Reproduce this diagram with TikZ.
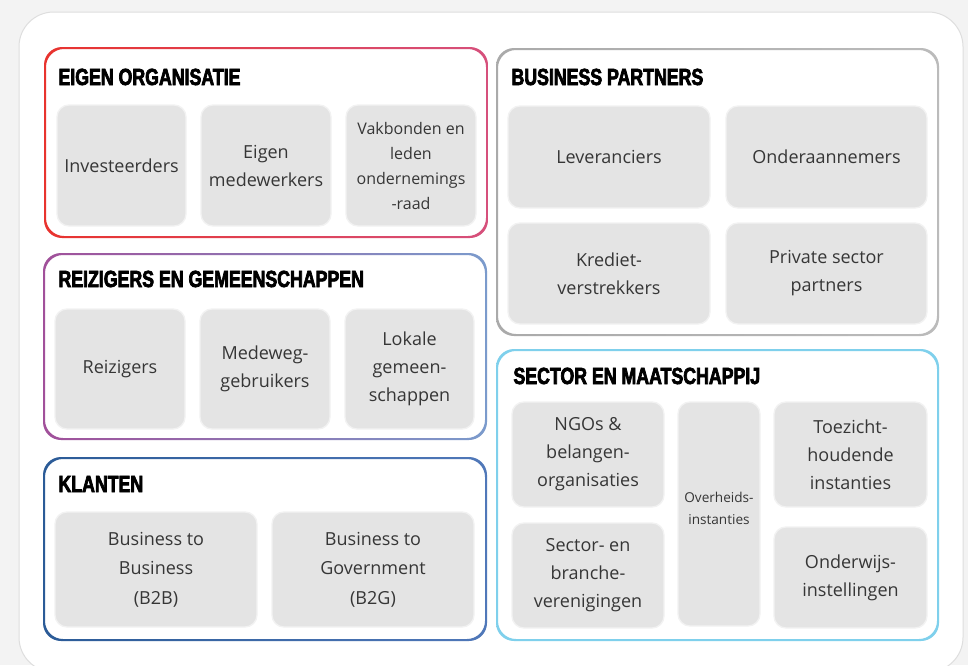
\documentclass[tikz,border=0pt]{standalone}
\usepackage{fontspec}
\setmainfont{Open Sans}
\newfontfamily\headfont{Liberation Sans Bold}[FakeStretch=0.76,FakeBold=3]

\definecolor{bgGray}{RGB}{243,243,243}
\definecolor{cardLine}{RGB}{222,222,222}
\definecolor{tileGray}{RGB}{228,228,228}
\definecolor{textGray}{RGB}{54,54,54}
\definecolor{eoRed}{RGB}{232,51,46}
\definecolor{eoPink}{RGB}{214,80,124}
\definecolor{rgPurple}{RGB}{161,80,154}
\definecolor{rgBlue}{RGB}{123,155,204}
\definecolor{klBlue}{RGB}{43,91,151}
\definecolor{klLight}{RGB}{80,120,185}
\definecolor{bpGray}{RGB}{170,170,170}
\definecolor{smBlue}{RGB}{127,208,236}

\tikzset{every picture/.style={line width=0.75pt}}
\tikzset{
  tile/.style 2 args={fill=tileGray, draw=white!95!black, line width=1pt, rounded corners=9pt,
    minimum width=#1*0.75pt, minimum height=#2*0.75pt, inner sep=0pt, align=center,
    text=textGray, font=\fontsize{13.5}{21}\selectfont},
  grouptitle/.style={anchor=base west, inner sep=0pt, font=\headfont\fontsize{17.5}{20}\selectfont},
  ring/.style={even odd rule, rounded corners=13.5pt}
}

\begin{document}
\begin{tikzpicture}[x=0.75pt,y=0.75pt,yscale=-1,xscale=1]
\useasboundingbox (0,0) rectangle (968,665);

%Shape: Background
\fill [bgGray] (0,0) rectangle (968,665);
%Shape: Card
\draw [draw=cardLine, fill=white, rounded corners=26pt] (19,12) rectangle (963,672);

%Shape: Group rings
\shade [ring, left color=eoRed, right color=eoPink] (44,47) rectangle (488,238) (46,49) rectangle (486,236);
\shade [ring, left color=rgPurple, right color=rgBlue] (43,253) rectangle (487,440) (45,255) rectangle (485,438);
\shade [ring, left color=klBlue, right color=klLight] (43,457) rectangle (487,641) (45,459) rectangle (485,639);
\shade [ring, left color=bpGray, right color=bpGray!80] (496,48) rectangle (939,336) (498,50) rectangle (937,334);
\shade [ring, left color=smBlue, right color=smBlue] (496,349) rectangle (939,641) (498,351) rectangle (937,639);

% Text Node
\node [grouptitle] (titleEO) at (58,85) {EIGEN ORGANISATIE};
\node [grouptitle] (titleRG) at (58,287) {REIZIGERS EN GEMEENSCHAPPEN};
\node [grouptitle] (titleKL) at (58,492) {KLANTEN};
\node [grouptitle] (titleBP) at (511,85) {BUSINESS PARTNERS};
\node [grouptitle] (titleSM) at (513,384) {SECTOR EN MAATSCHAPPIJ};

%Shape: Tiles eigen organisatie
\node [tile={129}{121}] (investeerders) at (121.5,165.5) {Investeerders};
\node [tile={130}{121}] (medewerkers) at (266,165.5) {Eigen\\medewerkers};
\node [tile={130}{121}, font=\fontsize{12}{18.75}\selectfont] (vakbonden) at (411,165.5) {Vakbonden en\\leden\\ondernemings\\-raad};

%Shape: Tiles reizigers en gemeenschappen
\node [tile={130}{120}] (reizigers) at (120,369) {Reizigers};
\node [tile={130}{120}] (medeweg) at (265,369) {Medeweg-\\gebruikers};
\node [tile={129}{120}] (lokaal) at (409.5,369) {Lokale\\gemeen-\\schappen};

%Shape: Tiles klanten
\node [tile={202}{115}, font=\fontsize{13.5}{22}\selectfont] (btob) at (156,569.5) {Business to\\Business\\(B2B)};
\node [tile={202}{115}, font=\fontsize{13.5}{22}\selectfont] (btog) at (373,569.5) {Business to\\Government\\(B2G)};

%Shape: Tiles business partners
\node [tile={202}{102}] (leveranciers) at (609,157) {Leveranciers};
\node [tile={201}{102}] (onderaannemers) at (826.5,157) {Onderaannemers};
\node [tile={202}{101}] (krediet) at (609,273.5) {Krediet-\\verstrekkers};
\node [tile={201}{101}] (private) at (826.5,273.5) {Private sector\\partners};

%Shape: Tiles sector en maatschappij
\node [tile={152}{105}] (ngos) at (588,454.5) {NGOs \&\\belangen-\\organisaties};
\node [tile={152}{105}] (branche) at (588,575.5) {Sector- en\\branche-\\verenigingen};
\node [tile={82}{224}, font=\fontsize{10.2}{16.5}\selectfont] (overheid) at (719,514) {Overheids-\\instanties\\[-7.5pt]};
\node [tile={153}{105}] (toezicht) at (850.5,454.5) {Toezicht-\\houdende\\instanties};
\node [tile={153}{101}] (onderwijs) at (850.5,577.5) {Onderwijs-\\instellingen};

\end{tikzpicture}
\end{document}
